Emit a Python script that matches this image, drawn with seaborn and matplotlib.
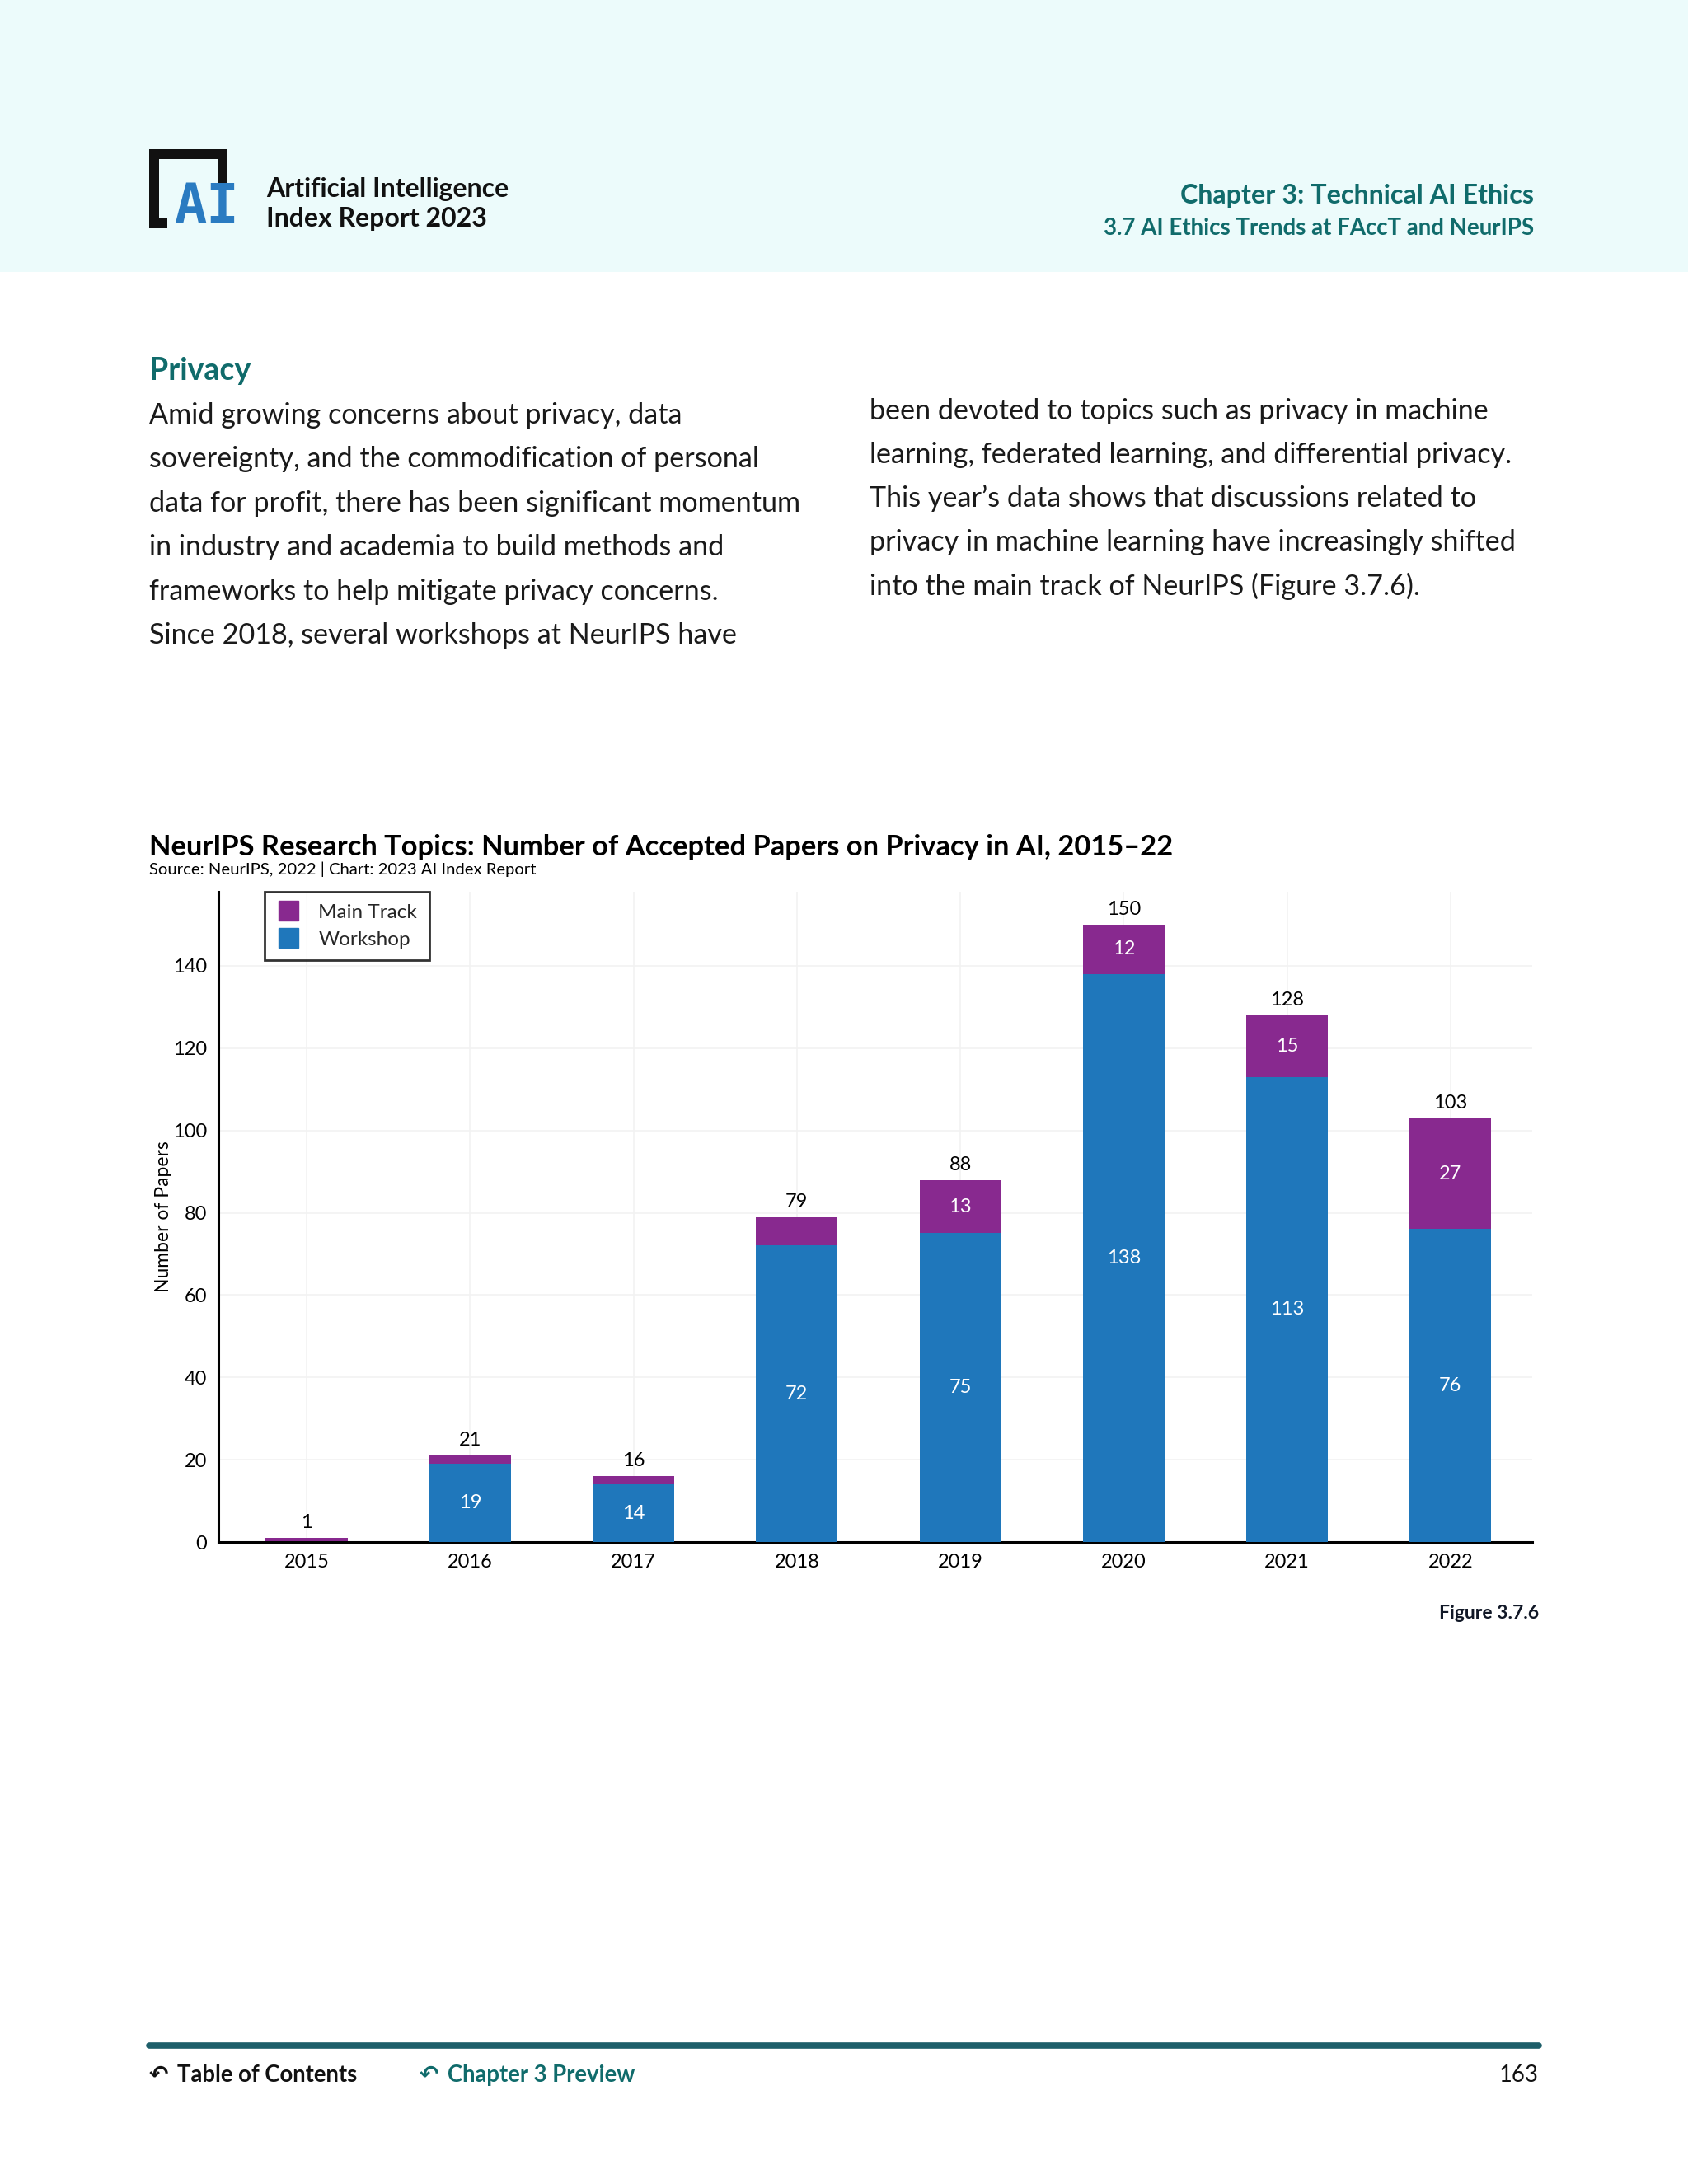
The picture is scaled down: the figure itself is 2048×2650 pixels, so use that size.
import pandas as pd
from matplotlib import pyplot as plt
from matplotlib.patches import Rectangle
from matplotlib.lines import Line2D
import seaborn as sns

# chart data
years = ["2015", "2016", "2017", "2018", "2019", "2020", "2021", "2022"]
workshop = [0, 19, 14, 72, 75, 138, 113, 76]
main_track = [1, 2, 2, 7, 13, 12, 15, 27]
y_ticks = [0, 20, 40, 60, 80, 100, 120, 140]

left_text = [
    "Amid growing concerns about privacy, data",
    "sovereignty, and the commodification of personal",
    "data for profit, there has been significant momentum",
    "in industry and academia to build methods and",
    "frameworks to help mitigate privacy concerns.",
    "Since 2018, several workshops at NeurIPS have",
]
right_text = [
    "been devoted to topics such as privacy in machine",
    "learning, federated learning, and differential privacy.",
    "This year\u2019s data shows that discussions related to",
    "privacy in machine learning have increasingly shifted",
    "into the main track of NeurIPS (Figure 3.7.6).",
]

PURPLE = "#88298F"
BLUE = "#1F77BB"
TEAL = "#106B6B"
W, H = 2048, 2650

sns.set_theme(style="white")
plt.rcParams["font.family"] = ["Lato", "DejaVu Sans"]

df = pd.DataFrame({"year": years, "workshop": workshop, "main": main_track})
df["total"] = df["workshop"] + df["main"]

fig = plt.figure(figsize=(W / 100, H / 100), dpi=100)
fig.patch.set_facecolor("white")


def fy(px):
    return 1 - px / H


def fx(px):
    return px / W


# header band
fig.patches.append(Rectangle((0, fy(330)), 1, 330 / H, transform=fig.transFigure,
                             facecolor="#ECFBFB", edgecolor="none", zorder=0))

# logo
k = "#111111"
for (x0, y0, x1, y1) in [(181, 181, 193, 277), (181, 181, 276, 193),
                         (264, 181, 276, 222), (181, 265, 203, 277)]:
    fig.patches.append(Rectangle((fx(x0), fy(y1)), (x1 - x0) / W, (y1 - y0) / H,
                                 transform=fig.transFigure, facecolor=k, edgecolor="none"))
fig.text(fx(251), fy(252), "AI", color="#2A7BC1", fontsize=47, fontweight="bold",
         family="DejaVu Sans Mono", ha="center", va="center")
fig.text(fx(323), fy(230), "Artificial Intelligence", fontsize=23, fontweight="bold",
         color="#111111", va="center")
fig.text(fx(323), fy(266), "Index Report 2023", fontsize=23, fontweight="bold",
         color="#111111", va="center")
fig.text(fx(1861), fy(238), "Chapter 3: Technical AI Ethics", fontsize=23.2,
         fontweight="bold", color=TEAL, ha="right", va="center")
fig.text(fx(1861), fy(277), "3.7 AI Ethics Trends at FAccT and NeurIPS", fontsize=19.9,
         fontweight="bold", color=TEAL, ha="right", va="center")

# body
fig.text(fx(181), fy(450), "Privacy", fontsize=27, fontweight="bold", color=TEAL, va="center")
for i, line in enumerate(left_text):
    fig.text(fx(181), fy(504 + i * 53.4), line, fontsize=24.6, color="#1A1A1A", va="center")
for i, line in enumerate(right_text):
    fig.text(fx(1055), fy(499 + i * 53), line, fontsize=24.6, color="#1A1A1A", va="center")

# chart title
fig.text(fx(181), fy(1028), "NeurIPS Research Topics: Number of Accepted Papers on Privacy in AI, 2015\u201322",
         fontsize=24.8, fontweight="bold", color="#000000", va="center")
fig.text(fx(181), fy(1055), "Source: NeurIPS, 2022 | Chart: 2023 AI Index Report",
         fontsize=14.6, color="#000000", va="center")

# axes
ax = fig.add_axes([fx(265), fy(1871), fx(1859) - fx(265), (1871 - 1082) / H])
sns.barplot(data=df, x="year", y="total", color=PURPLE, saturation=1, width=0.5,
            linewidth=0, ax=ax, zorder=2)
sns.barplot(data=df, x="year", y="workshop", color=BLUE, saturation=1, width=0.5,
            linewidth=0, ax=ax, zorder=3)

ax.set_xlim(-0.54, 7.5)
ax.set_ylim(0, 158)
ax.set_yticks(y_ticks)
ax.grid(True, color="#F2F2F2", linewidth=1.2, zorder=0)
ax.set_axisbelow(True)
for s in ["top", "right"]:
    ax.spines[s].set_visible(False)
for s in ["left", "bottom"]:
    ax.spines[s].set_color("black")
    ax.spines[s].set_linewidth(2.2)
ax.tick_params(axis="both", length=0, labelsize=17, colors="black", pad=10)
ax.set_xlabel("")
ax.set_ylabel("Number of Papers", fontsize=16.5, color="black")
ax.yaxis.set_label_coords(-0.035, 0.5)

for i, row in df.iterrows():
    ax.text(i, row["total"] + 1.6, str(row["total"]), ha="center", va="bottom",
            fontsize=17, color="black")
    if row["workshop"] >= 10:
        ax.text(i, row["workshop"] / 2, str(row["workshop"]), ha="center", va="center",
                fontsize=17, color="white", zorder=5)
    if row["main"] >= 10:
        ax.text(i, row["workshop"] + row["main"] / 2, str(row["main"]), ha="center",
                va="center", fontsize=17, color="white", zorder=5)

handles = [Line2D([0], [0], marker="s", linestyle="none", markersize=17,
                  markerfacecolor=PURPLE, markeredgecolor=PURPLE, label="Main Track"),
           Line2D([0], [0], marker="s", linestyle="none", markersize=17,
                  markerfacecolor=BLUE, markeredgecolor=BLUE, label="Workshop")]
leg = ax.legend(handles=handles, loc="upper left", bbox_to_anchor=(0.035, 1.0),
                borderaxespad=0, fontsize=17.5, frameon=True, fancybox=False,
                handletextpad=0.9, labelspacing=0.5, borderpad=0.6, handlelength=1.2)
leg.get_frame().set_edgecolor("black")
leg.get_frame().set_linewidth(2)
leg.set_zorder(10)

fig.text(fx(1867), fy(1957), "Figure 3.7.6", fontsize=16.5, fontweight="bold",
         color="#111827", ha="right", va="center")

# footer
fig.add_artist(Line2D([fx(181), fx(1867)], [fy(2482), fy(2482)], transform=fig.transFigure,
                      color="#1E5F6A", linewidth=5.5, solid_capstyle="round"))
fig.text(fx(181), fy(2518), "\u21B6", fontsize=20, fontweight="bold", family="DejaVu Sans",
         color="#111111", va="center")
fig.text(fx(215), fy(2518), "Table of Contents", fontsize=19.8, fontweight="bold",
         color="#111111", va="center")
fig.text(fx(509), fy(2518), "\u21B6", fontsize=20, fontweight="bold", family="DejaVu Sans",
         color=TEAL, va="center")
fig.text(fx(543), fy(2518), "Chapter 3 Preview", fontsize=19.8, fontweight="bold",
         color=TEAL, va="center")
fig.text(fx(1867), fy(2518), "163", fontsize=19.8, color="#111111", ha="right", va="center")

fig.savefig("out.png", dpi=100, facecolor="white")
